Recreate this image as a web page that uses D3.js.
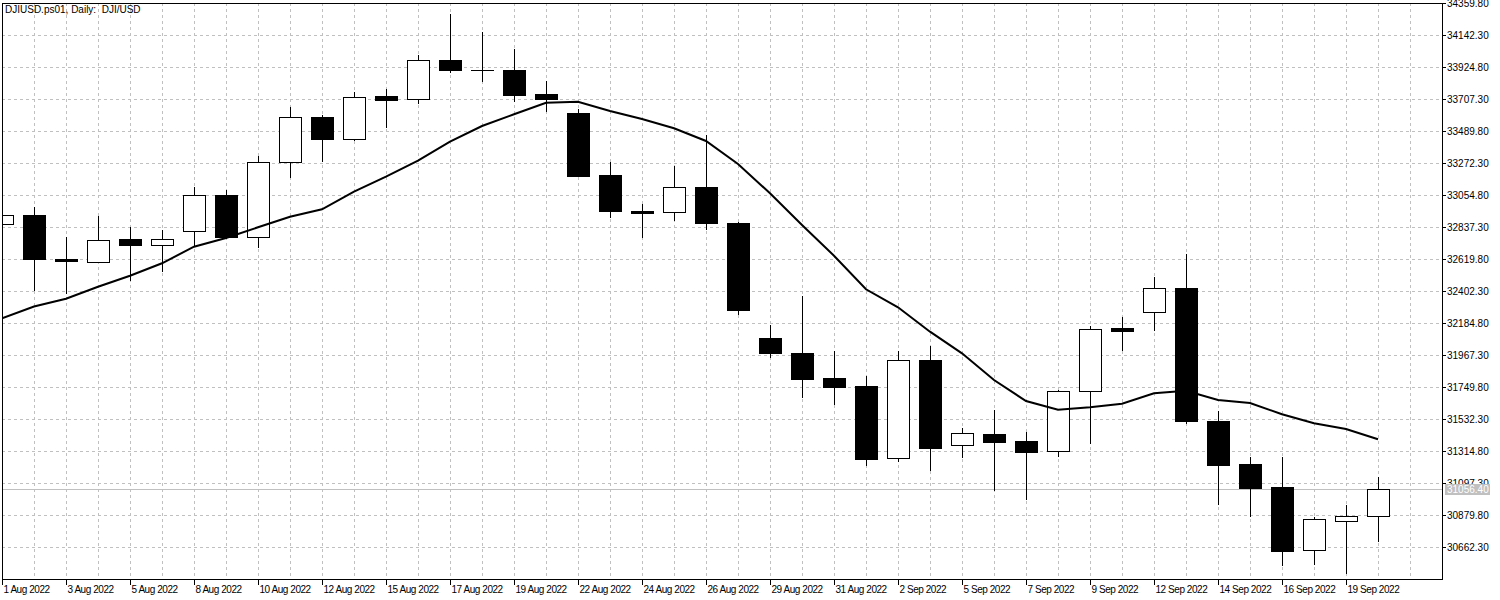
<!DOCTYPE html>
<html>
<head>
<meta charset="utf-8">
<script src="https://cdn.jsdelivr.net/npm/d3@7"></script>
<style>
  html, body { margin: 0; padding: 0; background: #ffffff; }
  svg { display: block; }
  text { font-family: "Liberation Sans", Arial, sans-serif; font-size: 10px; fill: #000; }
</style>
</head>
<body>
<svg id="chart" width="1500" height="600"></svg>
<script>
// ---------------- DATA ----------------
const dates = ["1 Aug 2022","2 Aug 2022","3 Aug 2022","4 Aug 2022","5 Aug 2022","7 Aug 2022","8 Aug 2022","9 Aug 2022","10 Aug 2022","11 Aug 2022","12 Aug 2022","14 Aug 2022","15 Aug 2022","16 Aug 2022","17 Aug 2022","18 Aug 2022","19 Aug 2022","21 Aug 2022","22 Aug 2022","23 Aug 2022","24 Aug 2022","25 Aug 2022","26 Aug 2022","28 Aug 2022","29 Aug 2022","30 Aug 2022","31 Aug 2022","1 Sep 2022","2 Sep 2022","4 Sep 2022","5 Sep 2022","6 Sep 2022","7 Sep 2022","8 Sep 2022","9 Sep 2022","11 Sep 2022","12 Sep 2022","13 Sep 2022","14 Sep 2022","15 Sep 2022","16 Sep 2022","18 Sep 2022","19 Sep 2022","20 Sep 2022"];
const open  = [32857.6,32918.8,32619.7,32606.1,32755.7,32713.5,32810.1,33054.8,32766.6,33276.3,33584.9,33435.4,33729.7,33707.3,33972.3,33904.4,33906.4,33741.2,33614.1,33192.7,32950.1,32939.2,33109.1,32866.5,32084.8,31982.9,31812.9,31758.6,31267.1,31935.3,31355.5,31432.3,31384.7,31314.7,31722.5,32152.8,32259.5,32422.6,31520.7,31228.4,31072.1,30641.8,30838.9,30872.9];
const high  = [32934.4,32977.3,32771.3,32914.0,32837.2,32818.9,33111.2,33090.8,33321.9,33654.9,33600.5,33754.8,33777.3,34008.4,34287.0,34162.7,34049.1,33833.7,33641.3,33279.0,32995.6,33255.9,33464.6,32873.3,32173.2,32372.3,31996.5,31826.5,31998.5,32032.5,31471.0,31595.4,31445.9,31731.4,32164.4,32227.6,32499.4,32655.8,31590.7,31276.0,31276.0,30866.1,30949.7,31140.0];
const low   = [32846.1,32406.3,32381.8,32596.6,32474.3,32535.5,32712.2,32755.7,32694.5,33174.4,33283.1,33421.8,33514.2,33677.3,33884.0,33822.8,33690.9,33623.0,33181.2,32902.5,32764.5,32882.1,32816.8,32243.2,31948.9,31679.0,31629.4,31216.8,31244.0,31180.8,31271.2,31044.9,30983.7,31278.0,31366.4,31996.5,32134.4,31498.3,30949.7,30870.2,30537.1,30543.9,30482.8,30698.2];
const close = [32918.8,32617.0,32603.4,32753.0,32712.2,32755.7,33054.8,32766.6,33279.0,33584.9,33432.7,33720.9,33704.5,33972.3,33901.7,33904.4,33738.5,33707.3,33188.0,32950.1,32936.5,33109.1,32861.7,32277.2,31984.9,31808.2,31753.8,31264.4,31935.3,31339.2,31437.1,31380.0,31312.1,31722.5,32143.9,32134.4,32422.6,31515.9,31223.6,31067.3,30639.1,30852.5,30872.9,31056.4];
const ma    = [32218.7,32298.9,32351.9,32433.5,32508.3,32592.6,32705.4,32764.5,32837.2,32909.3,32959.6,33079.2,33181.2,33289.9,33419.1,33525.8,33605.3,33684.1,33690.9,33627.7,33573.4,33510.1,33423.8,33267.5,33068.3,32852.9,32644.2,32415.8,32293.5,32127.6,31980.8,31799.3,31656.6,31597.5,31613.8,31638.3,31708.9,31726.6,31663.4,31643.0,31566.2,31505.0,31466.3,31396.3];
const priceTicks = [34359.80,34142.30,33924.80,33707.30,33489.80,33272.30,33054.80,32837.30,32619.80,32402.30,32184.80,31967.30,31749.80,31532.30,31314.80,31097.30,30879.80,30662.30];
const dateTicks = ["1 Aug 2022","3 Aug 2022","5 Aug 2022","8 Aug 2022","10 Aug 2022","12 Aug 2022","15 Aug 2022","17 Aug 2022","19 Aug 2022","22 Aug 2022","24 Aug 2022","26 Aug 2022","29 Aug 2022","31 Aug 2022","2 Sep 2022","5 Sep 2022","7 Sep 2022","9 Sep 2022","12 Sep 2022","14 Sep 2022","16 Sep 2022","19 Sep 2022"];
const lastPrice = 31056.40;
const title = "DJIUSD.ps01, Daily:  DJI/USD";

// ---------------- LAYOUT ----------------
const L = 2, R = 1442, T = 3, B = 579;
const step = 32;
const bodyHalf = 11;

const svg = d3.select("#chart");

const x = d3.scalePoint().domain(dates).range([L, L + step * (dates.length - 1)]);
const y = d3.scaleLinear().domain([30446.7, 34361.8]).range([B, T]);

const bars = dates.map((d, i) => ({ d, o: open[i], h: high[i], l: low[i], c: close[i], m: ma[i] }));

svg.append("defs").append("clipPath").attr("id", "plotclip")
  .append("rect").attr("x", L).attr("y", T).attr("width", R - L).attr("height", B - T);

// grid
const grid = svg.append("g").attr("shape-rendering", "crispEdges")
  .attr("stroke", "#c0c0c0").attr("stroke-dasharray", "3,3");
priceTicks.forEach(v => {
  const yy = Math.round(y(v)) + 0.5;
  grid.append("line").attr("x1", L).attr("x2", R).attr("y1", yy).attr("y2", yy);
});
const nGrid = Math.floor((R - L) / step);
for (let k = 1; k <= nGrid; k++) {
  const xx = L + k * step + 0.5;
  grid.append("line").attr("x1", xx).attr("x2", xx).attr("y1", T).attr("y2", B);
}

// last price line
svg.append("line").attr("shape-rendering", "crispEdges")
  .attr("x1", L).attr("x2", R).attr("y1", Math.round(y(lastPrice)) + 0.5).attr("y2", Math.round(y(lastPrice)) + 0.5)
  .attr("stroke", "#c0c0c0");

const plot = svg.append("g").attr("clip-path", "url(#plotclip)");

// candles
const cg = plot.append("g").attr("shape-rendering", "crispEdges");
bars.forEach(b => {
  const cx = Math.round(x(b.d));
  cg.append("line").attr("x1", cx + 0.5).attr("x2", cx + 0.5)
    .attr("y1", y(b.h)).attr("y2", y(b.l)).attr("stroke", "#000").attr("stroke-width", 1);
  const top = y(Math.max(b.o, b.c)), bot = y(Math.min(b.o, b.c));
  const bull = b.c > b.o;
  const hgt = Math.max(1, bot - top);
  if (Math.abs(b.o - b.c) < 0.01) {
    cg.append("line").attr("x1", cx - bodyHalf).attr("x2", cx + bodyHalf + 1)
      .attr("y1", Math.round(top) + 0.5).attr("y2", Math.round(top) + 0.5).attr("stroke", "#000");
  } else if (bull) {
    cg.append("rect").attr("x", cx - bodyHalf + 0.5).attr("y", Math.round(top) + 0.5)
      .attr("width", bodyHalf * 2).attr("height", Math.max(1, Math.round(hgt)))
      .attr("fill", "#fff").attr("stroke", "#000").attr("stroke-width", 1);
  } else {
    cg.append("rect").attr("x", cx - bodyHalf).attr("y", Math.round(top))
      .attr("width", bodyHalf * 2 + 1).attr("height", Math.max(2, Math.round(hgt) + 1))
      .attr("fill", "#000");
  }
});

// moving average
plot.append("path").datum(bars)
  .attr("d", d3.line().x(b => x(b.d)).y(b => y(b.m)))
  .attr("fill", "none").attr("stroke", "#000").attr("stroke-width", 2);

// frame
svg.append("rect").attr("shape-rendering", "crispEdges")
  .attr("x", L + 0.5).attr("y", T + 0.5).attr("width", R - L).attr("height", B - T)
  .attr("fill", "none").attr("stroke", "#000");

// right axis
const ra = svg.append("g");
priceTicks.forEach(v => {
  const yy = Math.round(y(v)) + 0.5;
  ra.append("line").attr("shape-rendering", "crispEdges")
    .attr("x1", R).attr("x2", R + 4).attr("y1", yy).attr("y2", yy).attr("stroke", "#000");
  ra.append("text").attr("x", R + 5).attr("y", yy + 3.5).text(d3.format(".2f")(v));
});

// last price label
const ly = Math.round(y(lastPrice));
ra.append("rect").attr("x", R + 3).attr("y", ly - 5).attr("width", 45).attr("height", 11).attr("fill", "#c0c0c0");
ra.append("text").attr("x", R + 5).attr("y", ly + 4).attr("fill", "#ffffff").style("fill", "#ffffff")
  .text(d3.format(".2f")(lastPrice));

// bottom axis
const ba = svg.append("g");
dateTicks.forEach(d => {
  const xx = Math.round(x(d)) + 0.5;
  ba.append("line").attr("shape-rendering", "crispEdges")
    .attr("x1", xx).attr("x2", xx).attr("y1", B).attr("y2", B + 6).attr("stroke", "#000");
  ba.append("text").attr("x", xx + 1).attr("y", 593).style("letter-spacing", "-0.45px").text(d);
});

// title
svg.append("text").attr("x", 5).attr("y", 13).attr("xml:space", "preserve")
  .style("white-space", "pre").text(title);
</script>
</body>
</html>
